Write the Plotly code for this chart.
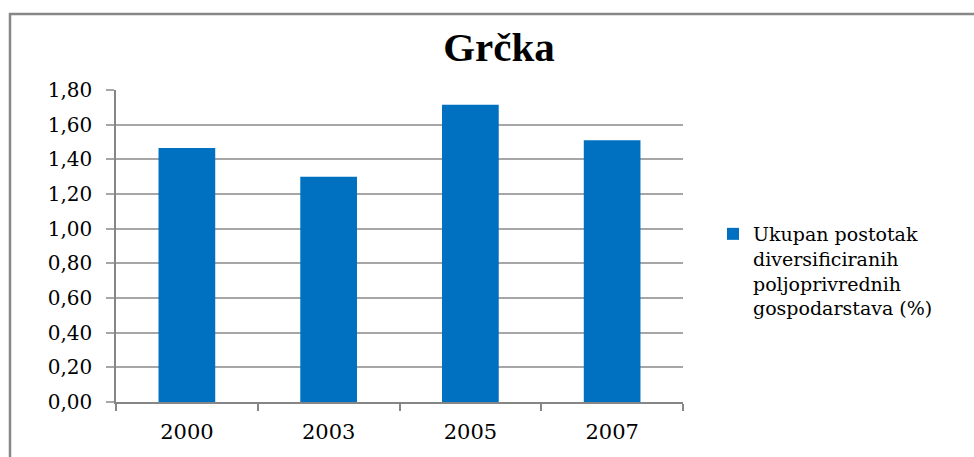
import plotly.graph_objects as go

years = ["2000", "2003", "2005", "2007"]
values = [1.465, 1.30, 1.715, 1.51]
series_name = "Ukupan postotak<br>diversificiranih<br>poljoprivrednih<br>gospodarstava (%)"
title_text = "Grčka"
y_ticks = [0.0, 0.2, 0.4, 0.6, 0.8, 1.0, 1.2, 1.4, 1.6, 1.8]
y_tick_labels = ["0,00", "0,20", "0,40", "0,60", "0,80", "1,00", "1,20", "1,40", "1,60", "1,80"]

W, H = 974, 457
L, R, T, B = 116, 291, 90, 55
SERIF = "DejaVu Serif, Liberation Serif, serif"

fig = go.Figure()
fig.add_trace(go.Bar(
    x=years, y=values, name=series_name,
    marker=dict(color="#0070C0", line=dict(width=0)),
    showlegend=True,
))

pw = W - L - R
ph = H - T - B

fig.update_layout(
    width=W, height=H,
    margin=dict(l=L, r=R, t=T, b=B, pad=0),
    paper_bgcolor="white", plot_bgcolor="white",
    bargap=0.6,
    font=dict(family=SERIF, color="#000000"),
    title=dict(text="<b>" + title_text + "</b>", xref="container", yref="container",
               x=499 / W, xanchor="center", y=1 - 47 / H, yanchor="middle",
               font=dict(size=41, family="Liberation Serif, Times New Roman, serif")),
    showlegend=True,
    legend=dict(x=(713 - L) / pw, xanchor="left", y=(H - B - 215) / ph, yanchor="top",
                font=dict(size=19, family=SERIF), valign="top", bgcolor="rgba(0,0,0,0)",
                itemwidth=30, tracegroupgap=0),
    xaxis=dict(type="category", showgrid=False, showline=True, linecolor="#868686", linewidth=1.5,
               ticks="outside", tickson="boundaries", ticklen=7, tickcolor="#868686", tickwidth=1.5,
               tickfont=dict(size=21), ticklabelstandoff=10, zeroline=False),
    yaxis=dict(range=[0, 1.8], tickvals=y_ticks, ticktext=y_tick_labels,
               showgrid=True, gridcolor="#A6A6A6", gridwidth=1.5,
               showline=True, linecolor="#868686", linewidth=1.5,
               ticks="outside", ticklen=8, tickcolor="#A6A6A6", tickwidth=1.5,
               tickfont=dict(size=20), ticklabelstandoff=10, zeroline=False),
)

fig.add_shape(type="rect", xref="paper", yref="paper",
              x0=(10 - L) / pw, x1=(990 - L) / pw,
              y0=(H - B - 470) / ph, y1=(H - B - 14) / ph,
              line=dict(color="#878787", width=2.5), fillcolor="rgba(0,0,0,0)", layer="below")

fig.write_html("out.html", config={"displayModeBar": False},
               post_script="document.body.style.margin='0';")
